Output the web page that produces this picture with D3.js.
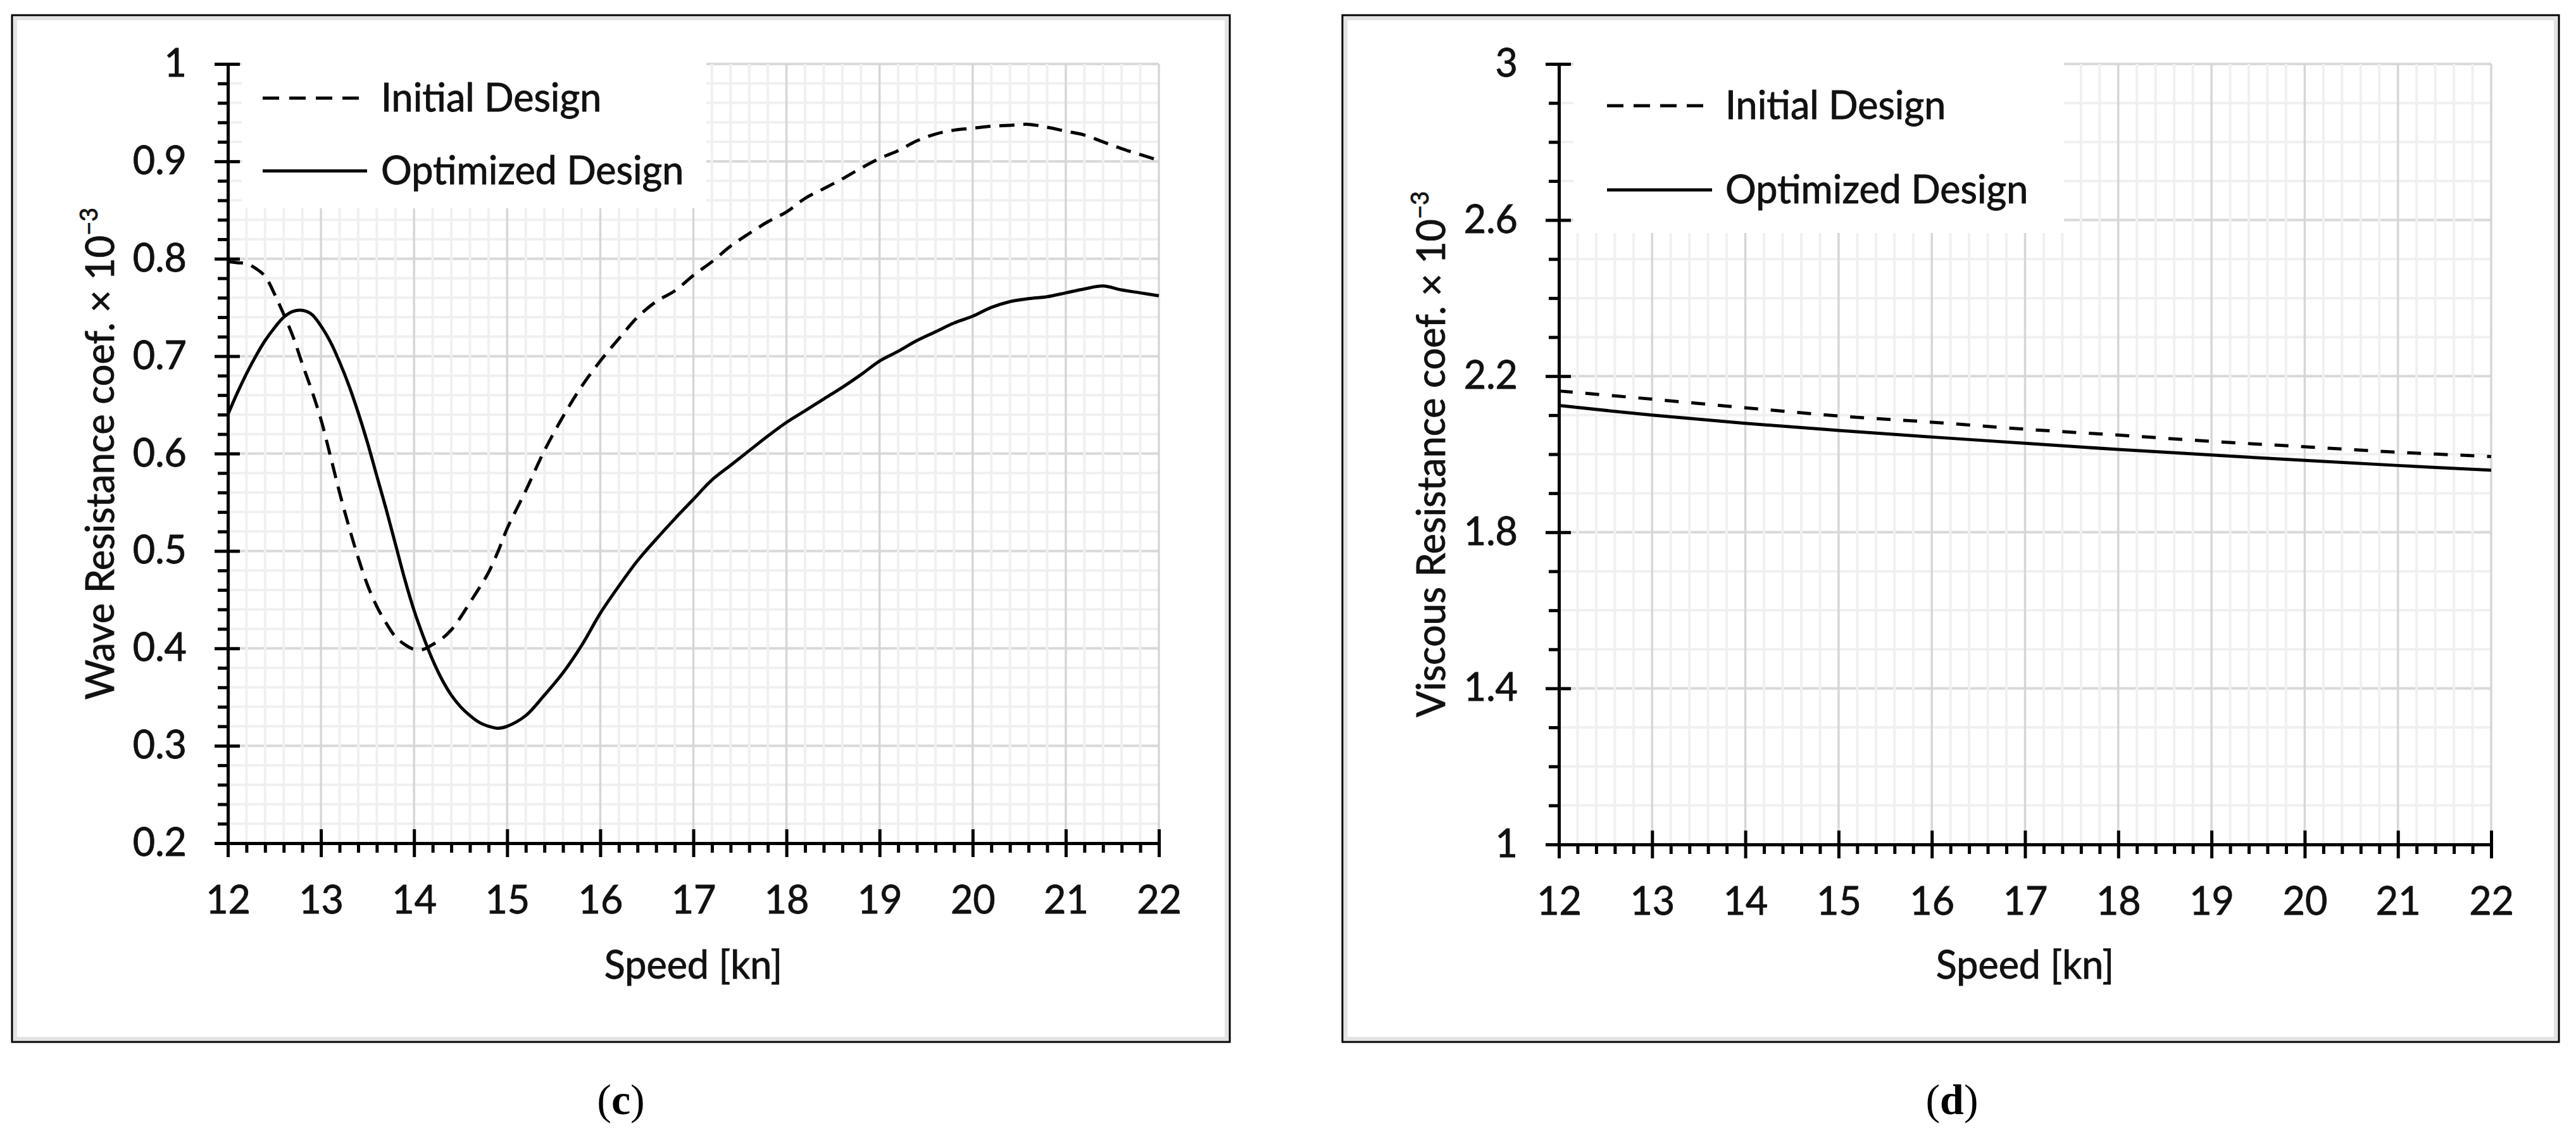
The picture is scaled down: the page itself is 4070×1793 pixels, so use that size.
<!DOCTYPE html>
<html>
<head>
<meta charset="utf-8">
<script src="https://cdn.jsdelivr.net/npm/d3@7"></script>
<style>
  html, body { margin: 0; padding: 0; background: #fff; }
  svg { display: block; }
</style>
</head>
<body>
<svg id="chart" width="4070" height="1793"></svg>
<script>
// panel (c): wave resistance coefficient x 10^-3
const speedC = [12.0, 12.1, 12.2, 12.3, 12.4, 12.5, 12.6, 12.7, 12.8, 12.9, 13.0, 13.1, 13.2, 13.3, 13.4, 13.5, 13.6, 13.7, 13.8, 13.9,
  14.0, 14.1, 14.2, 14.3, 14.4, 14.5, 14.6, 14.7, 14.8, 14.9, 15.0, 15.2, 15.4, 15.6, 15.8, 16.0, 16.2, 16.4, 16.6, 16.8,
  17.0, 17.2, 17.4, 17.6, 17.8, 18.0, 18.2, 18.4, 18.6, 18.8, 19.0, 19.2, 19.4, 19.6, 19.8, 20.0, 20.2, 20.4, 20.6, 20.8,
  21.0, 21.2, 21.4, 21.6, 21.8, 22.0];
const initialWave = [0.797, 0.796, 0.795, 0.790, 0.782, 0.764, 0.743, 0.720, 0.692, 0.665, 0.635, 0.598, 0.560, 0.525, 0.493, 0.465, 0.443, 0.426, 0.412, 0.404,
  0.399, 0.399, 0.404, 0.410, 0.419, 0.432, 0.447, 0.462, 0.478, 0.499, 0.523, 0.562, 0.603, 0.638, 0.669, 0.695, 0.718, 0.740, 0.756, 0.767,
  0.783, 0.797, 0.813, 0.826, 0.838, 0.848, 0.862, 0.872, 0.882, 0.893, 0.903, 0.911, 0.921, 0.928, 0.932, 0.934, 0.936, 0.937, 0.938, 0.935,
  0.931, 0.927, 0.920, 0.913, 0.907, 0.901];
const optimizedWave = [0.640, 0.662, 0.682, 0.700, 0.716, 0.729, 0.740, 0.746, 0.747, 0.743, 0.731, 0.715, 0.694, 0.670, 0.642, 0.611, 0.577, 0.543, 0.507, 0.471,
  0.439, 0.412, 0.388, 0.368, 0.352, 0.340, 0.331, 0.324, 0.320, 0.318, 0.320, 0.331, 0.352, 0.375, 0.403, 0.436, 0.464, 0.490, 0.512, 0.533,
  0.553, 0.573, 0.588, 0.603, 0.618, 0.632, 0.644, 0.656, 0.668, 0.681, 0.695, 0.705, 0.716, 0.725, 0.734, 0.741, 0.750, 0.756, 0.759, 0.761,
  0.765, 0.769, 0.772, 0.768, 0.765, 0.762];
const yTicksC = [0.2, 0.3, 0.4, 0.5, 0.6, 0.7, 0.8, 0.9, 1];

// panel (d): viscous resistance coefficient x 10^-3
const speedD = [12, 13, 14, 15, 16, 17, 18, 19, 20, 21, 22];
const initialViscous = [2.162, 2.141, 2.119, 2.098, 2.082, 2.064, 2.049, 2.033, 2.019, 2.005, 1.994];
const optimizedViscous = [2.125, 2.100, 2.079, 2.061, 2.044, 2.028, 2.012, 1.998, 1.984, 1.971, 1.959];
const yTicksD = [1, 1.4, 1.8, 2.2, 2.6, 3];

const xTicks = [12, 13, 14, 15, 16, 17, 18, 19, 20, 21, 22];
const legendLabels = ["Initial Design", "Optimized Design"];

const FONT = "Lato, 'Open Sans', sans-serif";
const svg = d3.select("#chart");

const fmt = d => d === Math.round(d) ? String(d) : d3.format(".1f")(d);
const range = (a, b, step) => d3.range(Math.round((b - a) / step) + 1).map(i => +(a + i * step).toFixed(4));

// text looks a bit heavier in the original, thicken it slightly
const textStyle = sel => sel.attr("font-family", FONT).attr("font-size", 61).attr("fill", "#111")
  .attr("stroke", "#111").attr("stroke-width", 0.9);

function drawPanel(p) {
  const g = svg.append("g");

  // outer frame
  g.append("rect").attr("x", p.frame[0] + 5).attr("y", p.frame[1] + 5)
    .attr("width", p.frame[2] - p.frame[0] - 10).attr("height", p.frame[3] - p.frame[1] - 10)
    .attr("fill", "none").attr("stroke", "#e3e3e3").attr("stroke-width", 6);
  g.append("rect").attr("x", p.frame[0]).attr("y", p.frame[1])
    .attr("width", p.frame[2] - p.frame[0]).attr("height", p.frame[3] - p.frame[1])
    .attr("fill", "none").attr("stroke", "#000").attr("stroke-width", 3);

  const x = d3.scaleLinear().domain([12, 22]).range([p.left, p.right]);
  const y = d3.scaleLinear().domain(p.yDomain).range([p.bottom, p.top]);

  const yMajor = p.yTicks;
  const yMinor = range(p.yDomain[0], p.yDomain[1], p.yMinorStep).filter(v => !yMajor.some(m => Math.abs(m - v) < 1e-6));
  const xMinor = range(12, 22, 0.2).filter(v => Math.abs(v - Math.round(v)) > 1e-6);

  // grid: horizontal first, then vertical minor on top (gives the broken look), then vertical major
  const grid = g.append("g");
  grid.selectAll(".hmaj").data(yMajor).join("line")
    .attr("x1", p.left).attr("x2", p.right).attr("y1", d => y(d)).attr("y2", d => y(d))
    .attr("stroke", "#d9d9d9").attr("stroke-width", 4);
  grid.selectAll(".hmin").data(yMinor).join("line")
    .attr("x1", p.left).attr("x2", p.right).attr("y1", d => y(d)).attr("y2", d => y(d))
    .attr("stroke", "#f0f0f0").attr("stroke-width", 4);
  grid.selectAll(".vmin").data(xMinor).join("line")
    .attr("x1", d => x(d)).attr("x2", d => x(d)).attr("y1", p.top).attr("y2", p.bottom)
    .attr("stroke", "#f0f0f0").attr("stroke-width", 4);
  grid.selectAll(".vmaj").data(xTicks).join("line")
    .attr("x1", d => x(d)).attr("x2", d => x(d)).attr("y1", p.top).attr("y2", p.bottom)
    .attr("stroke", "#d6d6d6").attr("stroke-width", 3.5);

  // legend box hides the grid behind it
  g.append("rect").attr("x", p.legBox[0]).attr("y", p.top - 4)
    .attr("width", p.legBox[1] - p.legBox[0]).attr("height", p.legBox[2] - p.top + 4)
    .attr("fill", "#fff");

  // data lines
  const line = d3.line().x(d => x(d[0])).y(d => y(d[1])).curve(d3.curveCatmullRom.alpha(0.5));
  g.append("path").datum(d3.zip(p.speed, p.initial)).attr("d", line)
    .attr("fill", "none").attr("stroke", "#000").attr("stroke-width", 5).attr("stroke-dasharray", p.dash);
  g.append("path").datum(d3.zip(p.speed, p.optimized)).attr("d", line)
    .attr("fill", "none").attr("stroke", "#000").attr("stroke-width", 5);

  // y axis
  const yAx = g.append("g").attr("transform", `translate(${p.left},0)`);
  yAx.append("g").call(d3.axisLeft(y).tickValues(yMinor).tickSize(16).tickFormat(""));
  yAx.append("g").call(d3.axisRight(y).tickValues(yMajor).tickSize(19).tickFormat(""));
  yAx.append("g").call(d3.axisLeft(y).tickValues(yMajor).tickSize(21).tickPadding(44).tickFormat(fmt));

  // x axis
  const xAx = g.append("g").attr("transform", `translate(0,${p.bottom})`);
  xAx.append("g").call(d3.axisBottom(x).tickValues(xMinor).tickSize(15).tickFormat(""));
  xAx.append("g").call(d3.axisTop(x).tickValues(xTicks).tickSize(22).tickFormat(""));
  xAx.append("g").call(d3.axisBottom(x).tickValues(xTicks).tickSize(22).tickPadding(46).tickFormat(d3.format("d")));

  g.selectAll(".domain").attr("stroke", "#000").attr("stroke-width", 5);
  g.selectAll(".tick line").attr("stroke", "#000").attr("stroke-width", 5);
  g.selectAll(".tick text").call(textStyle);

  // axis titles
  g.append("text").attr("x", (p.left + p.right) / 2).attr("y", 1546)
    .attr("text-anchor", "middle").call(textStyle)
    .text("Speed [kn]");
  const yt = g.append("text")
    .attr("transform", `translate(${p.left - 180},${(p.top + p.bottom) / 2}) rotate(-90)`)
    .attr("text-anchor", "middle").call(textStyle);
  yt.append("tspan").text(p.yTitle + " \u00d7 10");
  yt.append("tspan").attr("font-size", 38).attr("dy", -26).text("\u22123");

  // legend
  legendLabels.forEach((lab, i) => {
    const ly = p.legY[i];
    g.append("line").attr("x1", p.legLine[0]).attr("x2", p.legLine[1] + (i ? 8 : 0))
      .attr("y1", ly).attr("y2", ly).attr("stroke", "#000").attr("stroke-width", 5)
      .attr("stroke-dasharray", i ? null : "26,16");
    g.append("text").attr("x", p.legText).attr("y", ly).attr("dy", "0.35em")
      .call(textStyle).text(lab);
  });

  // panel caption
  const cap = svg.append("text").attr("x", p.capX).attr("y", 1760).attr("text-anchor", "middle")
    .attr("font-family", "'Liberation Serif', 'Times New Roman', serif").attr("font-size", 68).attr("fill", "#000");
  cap.append("tspan").text("(");
  cap.append("tspan").attr("font-weight", "bold").text(p.letter);
  cap.append("tspan").text(")");
}

drawPanel({
  frame: [19, 24, 1943, 1646],
  left: 360, right: 1831, top: 101, bottom: 1332,
  yDomain: [0.2, 1], yTicks: yTicksC, yMinorStep: 0.02,
  speed: speedC, initial: initialWave, optimized: optimizedWave,
  dash: "24,14",
  yTitle: "Wave Resistance coef.",
  legBox: [382, 1116, 329], legLine: [415, 572], legText: 602, legY: [155, 270],
  capX: 981, letter: "c"
});

drawPanel({
  frame: [2121, 24, 4043, 1646],
  left: 2463, right: 3936, top: 101, bottom: 1334,
  yDomain: [1, 3], yTicks: yTicksD, yMinorStep: 0.1,
  speed: speedD, initial: initialViscous, optimized: optimizedViscous,
  dash: "22,20",
  yTitle: "Viscous Resistance coef.",
  legBox: [2486, 3261, 368], legLine: [2539, 2697], legText: 2726, legY: [167, 300],
  capX: 3084, letter: "d"
});
</script>
</body>
</html>
